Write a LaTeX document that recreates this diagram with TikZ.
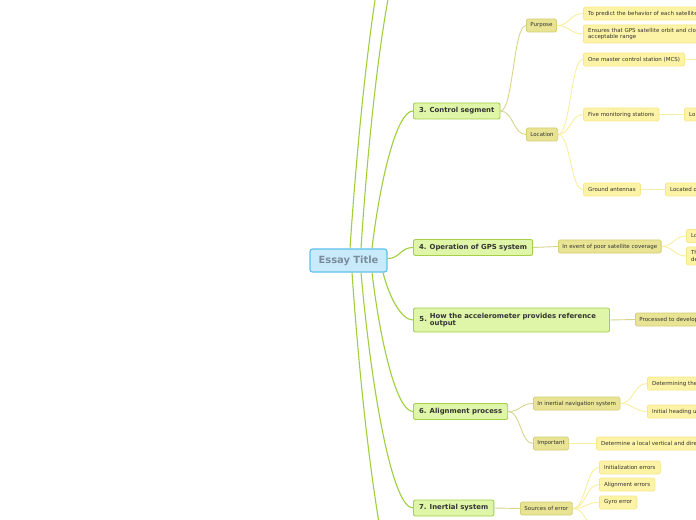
\documentclass[tikz,border=0pt]{standalone}
\usepackage{fontspec}
\setmainfont{DejaVu Sans}
\usetikzlibrary{calc,backgrounds}
\definecolor{rootf}{HTML}{C8EAFB}
\definecolor{rootb}{HTML}{5EC1EE}
\definecolor{roott}{HTML}{7B8D9C}
\definecolor{mainf}{HTML}{DFF5A8}
\definecolor{mainb}{HTML}{A6CF4A}
\definecolor{subf}{HTML}{E9E494}
\definecolor{subb}{HTML}{D5CE72}
\definecolor{leaff}{HTML}{FDF3A6}
\definecolor{leafb}{HTML}{F6E88A}
\definecolor{txt}{HTML}{333333}
\definecolor{rootedge}{HTML}{A0CF3C}
\definecolor{subedge}{HTML}{D8D48E}
\definecolor{leafedge}{HTML}{FAEFA0}
\newcommand{\leaffont}{\fontsize{5.5bp}{6.6bp}\selectfont}
\newcommand{\mainfont}{\fontsize{6.9bp}{8.2bp}\selectfont\bfseries}
\newcommand{\rootfont}{\fontsize{9.9bp}{11bp}\selectfont\bfseries}
\tikzset{
  rootbox/.style={draw=rootb, fill=rootf, line width=1.1bp, rounded corners=2.5bp, font=\rootfont, text=roott, minimum width=77bp, minimum height=23bp, inner sep=0pt},
  mainbox/.style={draw=mainb, fill=mainf, line width=0.9bp, rounded corners=2bp, font=\mainfont, text=txt, minimum height=16bp, inner xsep=5.6bp, inner ysep=0pt, anchor=west},
  subbox/.style={draw=subb, fill=subf, line width=0.8bp, rounded corners=1.5bp, font=\leaffont, text=txt, minimum height=13bp, inner xsep=4bp, inner ysep=0pt, anchor=west},
  leafbox/.style={draw=leafb, fill=leaff, line width=0.8bp, rounded corners=1.5bp, font=\leaffont, text=txt, minimum height=13bp, inner xsep=4.7bp, inner ysep=0pt, anchor=west, align=left},
  scurve/.style={to path={let \p1=(\tikztostart),\p2=(\tikztotarget) in .. controls ({0.5*\x1+0.5*\x2},\y1) and ({0.5*\x1+0.5*\x2},\y2) .. (\tikztotarget)}},
  rcurve/.style={to path={let \p1=(\tikztostart),\p2=(\tikztotarget) in .. controls ({\x1+0.2*(\x2-\x1)},{\y1+0.5*(\y2-\y1)}) and ({\x1+0.6*(\x2-\x1)},\y2) .. (\tikztotarget)}},
  redge/.style={draw=rootedge, line width=1.1bp, rcurve},
  sedge/.style={draw=subedge, line width=0.9bp, scurve},
  ledge/.style={draw=leafedge, line width=0.9bp, scurve}
}
\begin{document}
\begin{tikzpicture}[x=1bp,y=-1bp]
\useasboundingbox (0,0) rectangle (696,520);
% off-canvas targets
\coordinate (t1) at (413,-130);
\coordinate (t2) at (413,-71);
\coordinate (t8) at (413,627);
\coordinate (mcsout) at (720,59.5);
\coordinate (srcout) at (599,528);
% nodes
\node[rootbox] (root) at (348.5,260.5) {Essay Title};
\node[mainbox] (c3) at (413,111) {3. Control segment};
\node[mainbox] (c4) at (413,247.5) {4. Operation of GPS system};
\node[mainbox, text width=184bp, minimum height=24bp, inner xsep=6bp] (c5) at (413,320) {5.\hspace{3bp}\begin{tabular}[c]{@{}l@{}}How the accelerometer provides reference\\[-1bp]output\end{tabular}};
\node[mainbox] (c6) at (413,411.5) {6. Alignment process};
\node[mainbox] (c7) at (413,508) {7. Inertial system};
\node[subbox] (purpose) at (526,25.5) {Purpose};
\node[subbox] (location) at (526,134.5) {Location};
\node[leafbox, text width=130bp] (predict) at (583,13.5) {To predict the behavior of each satellite};
\node[leafbox, text width=130bp, minimum height=18bp] (ensures) at (583,34) {Ensures that GPS satellite orbit and clo\\acceptable range};
\node[leafbox] (mcs) at (583,59.5) {One master control station (MCS)};
\node[leafbox] (five) at (583,114.5) {Five monitoring stations};
\node[leafbox, text width=40bp] (lo1) at (684,114.5) {Lo};
\node[leafbox] (ground) at (583,189.5) {Ground antennas};
\node[leafbox, text width=60bp] (loc2) at (665,189.5) {Located o};
\node[subbox] (event) at (558,246.5) {In event of poor satellite coverage};
\node[leafbox, text width=40bp] (lo3) at (686,236) {Lo};
\node[leafbox, text width=40bp, minimum height=18bp] (th) at (686,256) {Th\\de};
\node[subbox, text width=90bp, align=left] (processed) at (635,319.5) {Processed to develop};
\node[subbox] (inertial) at (533,403.5) {In inertial navigation system};
\node[leafbox, text width=80bp] (determining) at (647,383.5) {Determining the};
\node[leafbox, text width=80bp] (initial) at (647,411.5) {Initial heading u};
\node[subbox] (important) at (533,443.5) {Important};
\node[leafbox, text width=130bp] (determine) at (596,443.5) {Determine a local vertical and dire};
\node[subbox] (sources) at (520,508.5) {Sources of error};
\node[leafbox] (init) at (599,467.5) {Initialization errors};
\node[leafbox] (align) at (599,484.5) {Alignment errors};
\node[leafbox] (gyro) at (599,502.5) {Gyro error};
\begin{scope}[on background layer]
\fill[white] (0,0) rectangle (696,520);
% root edges
\draw[redge] ([xshift=1.5bp]root.north) to (t1);
\draw[redge] ([xshift=12.5bp]root.north) to (t2);
\draw[redge] ([xshift=23.5bp]root.north) to (c3.west);
\draw[draw=rootedge, line width=1.1bp, scurve] ([yshift=2bp]root.east) to (c4.west);
\draw[redge] ([xshift=34.5bp]root.south) to (c5.west);
\draw[redge] ([xshift=23.5bp]root.south) to (c6.west);
\draw[redge] ([xshift=12.5bp]root.south) to (c7.west);
\draw[redge] ([xshift=3.5bp]root.south) to (t8);
% main to sub
\draw[sedge] (c3.east) to (purpose.west);
\draw[sedge] (c3.east) to (location.west);
\draw[sedge] (c4.east) to (event.west);
\draw[sedge] (c5.east) to (processed.west);
\draw[sedge] (c6.east) to (inertial.west);
\draw[sedge] (c6.east) to (important.west);
\draw[sedge] (c7.east) to (sources.west);
% sub to leaf
\draw[ledge] (purpose.east) to (predict.west);
\draw[ledge] (purpose.east) to (ensures.west);
\draw[ledge] (location.east) to (mcs.west);
\draw[ledge] (location.east) to (five.west);
\draw[ledge] (location.east) to (ground.west);
\draw[ledge] (mcs.east) to (mcsout);
\draw[ledge] (five.east) to (lo1.west);
\draw[ledge] (ground.east) to (loc2.west);
\draw[ledge] (event.east) to (lo3.west);
\draw[ledge] (event.east) to (th.west);
\draw[ledge] (inertial.east) to (determining.west);
\draw[ledge] (inertial.east) to (initial.west);
\draw[ledge] (important.east) to (determine.west);
\draw[ledge] (sources.east) to (init.west);
\draw[ledge] (sources.east) to (align.west);
\draw[ledge] (sources.east) to (gyro.west);
\draw[ledge] (sources.east) to (srcout);
\end{scope}
\end{tikzpicture}
\end{document}
